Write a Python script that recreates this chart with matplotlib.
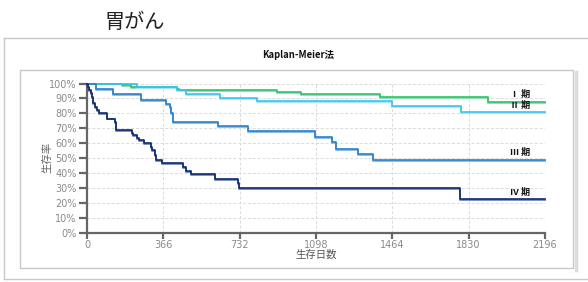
import matplotlib
matplotlib.use("Agg")
import matplotlib.pyplot as plt
from matplotlib.patches import Rectangle
from matplotlib.lines import Line2D

plt.rcParams['font.family'] = ['Noto Sans CJK JP', 'DejaVu Sans']

# ---- data (days, survival %) ----
stage_names = ["Ⅰ 期", "Ⅱ 期", "Ⅲ 期", "Ⅳ 期"]
x_ticks = [0, 366, 732, 1098, 1464, 1830, 2196]
y_ticks = [0, 10, 20, 30, 40, 50, 60, 70, 80, 90, 100]

s1_days = [0, 166, 209, 430, 441, 909, 1025, 1405, 1921]
s1_surv = [100, 98.9, 97.8, 96.6, 95.5, 94.4, 92.8, 91.0, 87.7]

s2_days = [0, 241, 430, 475, 637, 813, 1464, 1791]
s2_surv = [100, 97.7, 95.5, 93.2, 90.4, 88.0, 84.8, 80.8]

s3_days = [0, 42, 126, 257, 377, 398, 405, 414, 630, 773, 1093, 1173, 1194, 1301, 1370]
s3_surv = [100, 96.0, 92.8, 88.8, 86.1, 84.3, 79.9, 74.3, 71.3, 68.4, 64.3, 61.0, 56.0, 52.5, 48.5]

s4_days = [0, 5, 11, 18, 24, 30, 38, 46, 58, 98, 133, 137, 141, 217, 222, 241, 249,
           273, 305, 313, 324, 329, 361, 462, 475, 500, 612, 725, 730, 1788]
s4_surv = [100, 97.8, 95.6, 93.3, 91.1, 86.6, 84.4, 82.2, 80.0, 76.5, 74.3, 71.5, 68.7,
           66.5, 65.4, 63.2, 62.0, 59.8, 57.6, 55.3, 52.0, 48.7, 46.9, 44.2, 41.5,
           39.1, 35.9, 33.0, 29.7, 22.5]

label_y = [92.8, 85.0, 54.0, 26.8]
x_end = 2196

colors = ["#2dc36a", "#38c4f0", "#2b80cc", "#0c2a6e"]
shadow = ["#8fe0b0", "#a6e6fa", "#8dbde8", "#7f92b8"]

W, H = 588, 282
fig = plt.figure(figsize=(W / 100, H / 100), dpi=100)

def fx(px):
    return px / W

def fy(py):
    return 1 - py / H

def fline(x0, y0, x1, y1, color="#c8c8c8", lw=1.0):
    fig.add_artist(Line2D([fx(x0), fx(x1)], [fy(y0), fy(y1)], transform=fig.transFigure,
                          color=color, lw=lw))

# outer frame (open on the right)
fline(4, 38, 588, 38)
fline(4, 38, 4, 279)
fline(4, 279, 588, 279)
# inner frame with a soft right shadow
fline(575.5, 72, 575.5, 270, color="#dcdcdc", lw=2.5)
fig.add_artist(Rectangle((fx(20), fy(268)), fx(573) - fx(20), fy(70) - fy(268),
                         transform=fig.transFigure, fill=False, ec="#c8c8c8", lw=1.0))

fig.text(fx(135), fy(22), "胃がん", ha="center", va="center", fontsize=14.5, color="#222")
fig.text(fx(298), fy(55), "Kaplan-Meier法", ha="center", va="center", fontsize=6.8,
         fontweight="bold", color="#111")

ax = fig.add_axes([fx(87), fy(232.7), fx(545) - fx(87), fy(83.5) - fy(232.7)])
ax.set_facecolor("none")

series = [(s1_days, s1_surv), (s2_days, s2_surv), (s3_days, s3_surv), (s4_days, s4_surv)]
for (d, s), c, sc in zip(series, colors, shadow):
    dd = list(d) + [x_end]
    ss = list(s) + [s[-1]]
    ax.step(dd, [v - 0.6 for v in ss], where="post", color=sc, lw=1.4, clip_on=False, zorder=2)
    ax.step(dd, ss, where="post", color=c, lw=1.2, clip_on=False, zorder=3)

for name, yv in zip(stage_names, label_y):
    ax.text(2030, yv, name, ha="left", va="center", fontsize=6.5, fontweight="bold", color="#111")

ax.set_xlim(0, 2196)
ax.set_ylim(0, 100)
ax.set_xticks(x_ticks)
ax.set_xticklabels([str(t) for t in x_ticks])
ax.set_yticks(y_ticks)
ax.set_yticklabels([f"{t}%" for t in y_ticks])
ax.grid(True, color="#dadada", ls=(0, (3, 2)), lw=0.7)
ax.set_axisbelow(True)
for sp in ["top", "right"]:
    ax.spines[sp].set_visible(False)
for sp in ["left", "bottom"]:
    ax.spines[sp].set_color("#666666")
    ax.spines[sp].set_linewidth(1.6)
ax.tick_params(axis="y", length=6, width=1.6, color="#666666", labelsize=7,
               labelcolor="#8a8a8a", pad=1.5)
ax.tick_params(axis="x", length=4, width=1.6, color="#666666", labelsize=7,
               labelcolor="#8a8a8a", pad=1.5)
for lab in ax.get_xticklabels() + ax.get_yticklabels():
    lab.set_fontfamily("DejaVu Sans")
ax.axvline(2196, color="#dadada", ls=(0, (3, 2)), lw=0.7, zorder=0)

fig.text(fx(316), fy(255), "生存日数", ha="center", va="center", fontsize=7.5, color="#555")
fig.text(fx(47), fy(157), "生存率", ha="center", va="center", rotation=90, fontsize=7.5, color="#666")

fig.savefig("out.png", dpi=100)
